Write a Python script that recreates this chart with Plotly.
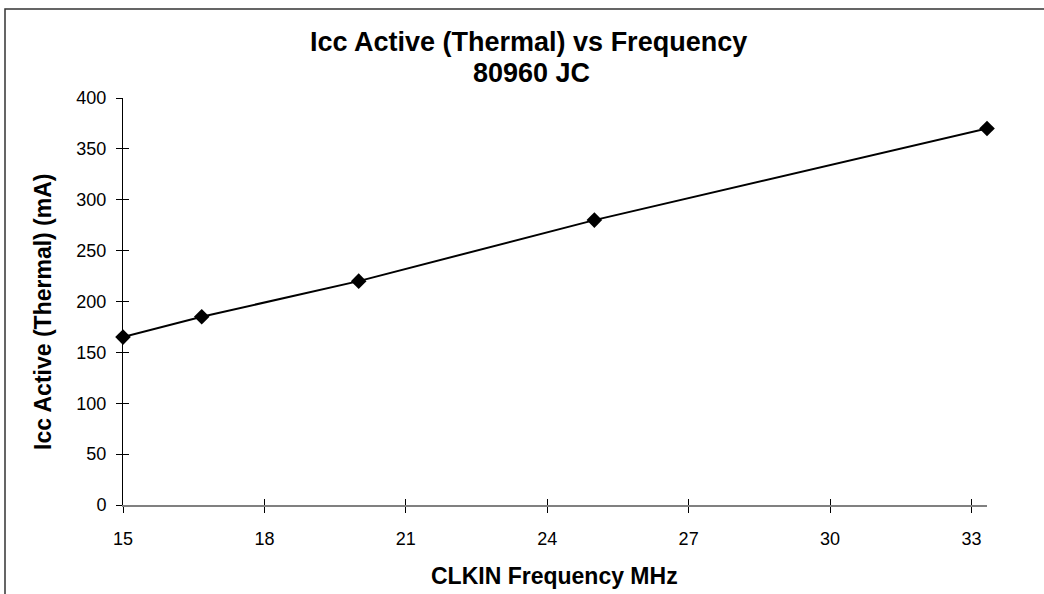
import plotly.graph_objects as go

freq_mhz = [15, 16.67, 20, 25, 33.33]
icc_ma = [165, 185, 220, 280, 370]
x_ticks = [15, 18, 21, 24, 27, 30, 33]
y_ticks = [0, 50, 100, 150, 200, 250, 300, 350, 400]

title_line1 = "Icc Active (Thermal) vs Frequency"
title_line2 = "80960 JC"
x_title = "CLKIN Frequency MHz"
y_title = "Icc Active (Thermal) (mA)"

W, H = 1044, 594
L, R, T, B = 123, 57, 98, 89
pw, ph = W - L - R, H - T - B

def px(xs):  # screen x -> paper
    return (xs - L) / pw

def py(ys):  # screen y -> paper
    return (H - B - ys) / ph

FONT = "Liberation Sans, Arial, sans-serif"

fig = go.Figure()
fig.add_trace(go.Scatter(
    x=freq_mhz, y=icc_ma, mode="lines+markers",
    line=dict(color="black", width=2),
    marker=dict(symbol="diamond", size=12, color="black"),
    showlegend=False, cliponaxis=False,
))
fig.add_trace(go.Scatter(x=[freq_mhz[0]], y=[icc_ma[0]], xaxis="x2", yaxis="y2",
                         mode="markers", marker=dict(opacity=0), showlegend=False,
                         hoverinfo="skip"))

axis_common = dict(showgrid=False, zeroline=False, mirror=False)
fig.update_layout(
    width=W, height=H,
    margin=dict(l=L, r=R, t=T, b=B),
    paper_bgcolor="white", plot_bgcolor="white",
    font=dict(family=FONT, color="black", size=17),
    xaxis=dict(range=[15, 33.33], tickmode="array", tickvals=x_ticks,
               ticks="outside", ticklen=6, tickcolor="black", tickwidth=1,
               showline=True, linecolor="#808080", linewidth=2,
               tickfont=dict(size=18), ticklabelstandoff=10, **axis_common),
    yaxis=dict(range=[0, 400], tickmode="array", tickvals=y_ticks,
               ticks="outside", ticklen=6, tickcolor="black", tickwidth=1,
               showline=True, linecolor="black", linewidth=1,
               tickfont=dict(size=18), ticklabelstandoff=6, **axis_common),
    xaxis2=dict(range=[15, 33.33], overlaying="x", tickmode="array", tickvals=x_ticks,
                ticks="inside", ticklen=6, tickcolor="black", tickwidth=1,
                showticklabels=False, showline=False, side="bottom", **axis_common),
    yaxis2=dict(range=[0, 400], overlaying="y", tickmode="array", tickvals=y_ticks,
                ticks="inside", ticklen=6, tickcolor="black", tickwidth=1,
                showticklabels=False, showline=False, side="left", **axis_common),
    shapes=[dict(type="rect", xref="paper", yref="paper",
                 x0=px(5), x1=px(W + 20), y0=py(H + 20), y1=py(9),
                 line=dict(color="#333333", width=1.5), layer="below")],
    annotations=[
        dict(text=f"<b>{title_line1}</b>", x=px(528), y=py(42), xref="paper", yref="paper",
             showarrow=False, xanchor="center", yanchor="middle", font=dict(size=27)),
        dict(text=f"<b>{title_line2}</b>", x=px(531), y=py(73), xref="paper", yref="paper",
             showarrow=False, xanchor="center", yanchor="middle", font=dict(size=27)),
        dict(text=f"<b>{x_title}</b>", x=px(554), y=py(576), xref="paper", yref="paper",
             showarrow=False, xanchor="center", yanchor="middle", font=dict(size=23)),
        dict(text=f"<b>{y_title}</b>", x=px(43), y=py(312), xref="paper", yref="paper",
             showarrow=False, xanchor="center", yanchor="middle", textangle=-90,
             font=dict(size=23)),
    ],
)

fig.write_html("out.html", config={"displayModeBar": False},
               post_script="document.body.style.margin='0';document.body.style.overflow='hidden';")
